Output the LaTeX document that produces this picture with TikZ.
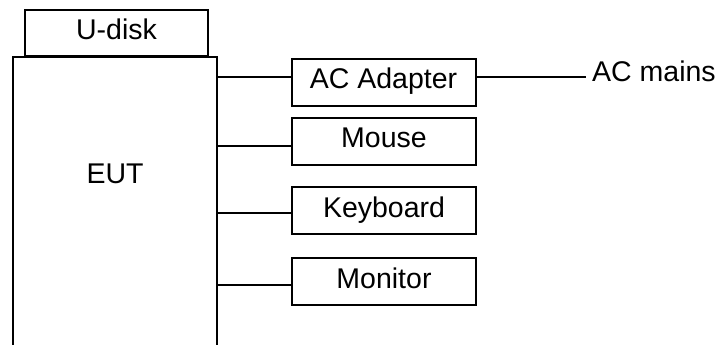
\documentclass[tikz,border=0pt]{standalone}
\usepackage{fontspec}
\setmainfont{Liberation Sans}
\begin{document}
\begin{tikzpicture}[x=1pt,y=-1pt,
  every node/.style={font=\fontsize{28.5}{34}\selectfont},
  devbox/.style={draw,line width=2pt,inner xsep=0pt,inner ysep=0pt,
    minimum width=184pt,text height=30pt,text depth=17pt,anchor=base},
  conn/.style={line width=2pt}]
\useasboundingbox (0,0) rectangle (716,345);
\node[draw,line width=2pt,inner xsep=0pt,inner ysep=0pt,minimum width=183pt,
  text height=30pt,text depth=16pt,anchor=base] (udisk) at (116.5,40) {U-disk};
\node[draw,line width=2pt,inner xsep=0pt,inner ysep=0pt,minimum width=204pt,
  text height=125.5pt,text depth=180pt,anchor=base] (eut) at (115,183) {EUT};
\node[devbox] (acad) at (383.5,89) {AC Adapter};
\node[devbox] (mouse) at (384,148) {Mouse};
\node[devbox] (kbd) at (384,217) {Keyboard};
\node[devbox] (mon) at (384,288) {Monitor};
\node[anchor=base west,inner xsep=6pt] (mains) at (586,82) {AC mains};
\coordinate (y1) at (0,77);
\coordinate (y2) at (0,146);
\coordinate (y3) at (0,213);
\coordinate (y4) at (0,285);
\draw[conn] (eut.east |- y1) -- (acad.west |- y1);
\draw[conn] (eut.east |- y2) -- (mouse.west |- y2);
\draw[conn] (eut.east |- y3) -- (kbd.west |- y3);
\draw[conn] (eut.east |- y4) -- (mon.west |- y4);
\draw[conn] (acad.east |- y1) -- (mains.west |- y1);
\end{tikzpicture}
\end{document}
